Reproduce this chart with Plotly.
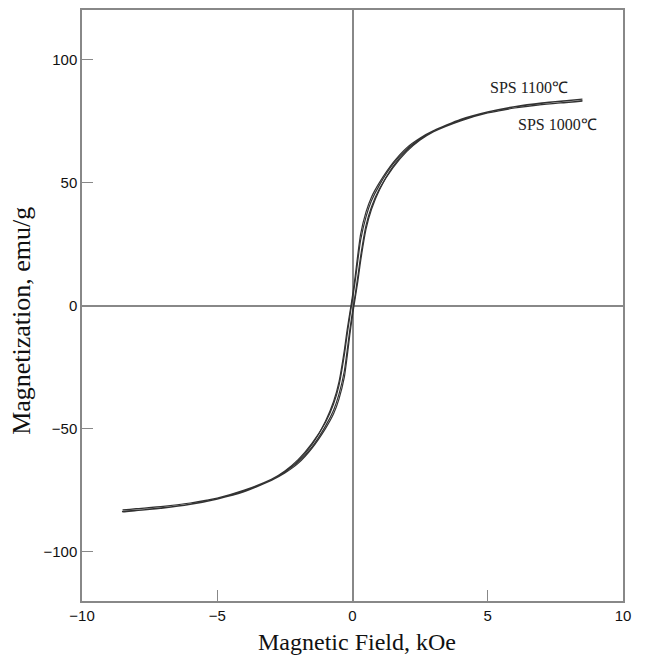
import plotly.graph_objects as go

# Magnetic field grid (kOe), ascending
field_koe = [-8.5, -8, -7, -6, -5, -4, -3, -2.5, -2, -1.5, -1, -0.7, -0.5, -0.3, -0.2, -0.1,
             0, 0.1, 0.2, 0.3, 0.5, 0.7, 1, 1.5, 2, 2.5, 3, 4, 5, 6, 7, 8, 8.5]

# SPS 1100 °C : descending branch (field decreasing), values at field_koe
m1100_desc = [-83.8, -83.3, -82.3, -80.8, -78.6, -75.6, -71.0, -67.5, -63.0, -56.5, -47.0, -39.0,
              -31.0, -18.0, -10.0, -3.0, 4.0, 12.0, 21.0, 29.0, 38.0, 44.0, 50.0, 58.0, 64.0,
              68.0, 71.0, 75.3, 78.5, 80.6, 82.1, 83.2, 83.6]
# SPS 1100 °C : ascending branch (field increasing), values at field_koe
m1100_asc = [-83.6, -83.2, -82.1, -80.6, -78.5, -75.3, -71.0, -68.0, -64.0, -58.0, -50.0, -44.0,
             -38.0, -29.0, -21.0, -12.0, -4.0, 3.0, 10.0, 18.0, 31.0, 39.0, 47.0, 56.5, 63.0,
             67.5, 71.0, 75.6, 78.6, 80.8, 82.3, 83.3, 83.8]

# SPS 1000 °C : descending branch
m1000_desc = [-83.0, -82.6, -81.6, -80.2, -78.2, -75.2, -70.6, -67.2, -62.5, -56.0, -47.5, -40.0,
              -32.5, -20.0, -12.0, -4.5, 2.5, 10.0, 18.5, 26.5, 36.0, 42.5, 49.0, 57.5, 63.5,
              67.5, 70.6, 75.0, 78.2, 80.2, 81.6, 82.5, 83.0]
# SPS 1000 °C : ascending branch
m1000_asc = [-83.0, -82.5, -81.6, -80.2, -78.2, -75.0, -70.6, -67.5, -63.5, -57.5, -49.0, -42.5,
             -36.0, -26.5, -18.5, -10.0, -2.5, 4.5, 12.0, 20.0, 32.5, 40.0, 47.5, 56.0, 62.5,
             67.2, 70.6, 75.2, 78.2, 80.2, 81.6, 82.6, 83.0]

label_1100 = "SPS 1100℃"
label_1000 = "SPS 1000℃"
x_title = "Magnetic Field, kOe"
y_title = "Magnetization, emu/g"
x_ticks = [-10, -5, 0, 5, 10]
y_ticks = [-100, -50, 0, 50, 100]

line_color = "#333333"

fig = go.Figure()
for name, desc, asc in [(label_1100, m1100_desc, m1100_asc), (label_1000, m1000_desc, m1000_asc)]:
    xs = field_koe[::-1] + field_koe
    ys = desc[::-1] + asc
    fig.add_trace(go.Scatter(x=xs, y=ys, mode="lines", name=name, line_shape="spline",
                             line=dict(color=line_color, width=1.2, smoothing=0.6),
                             showlegend=False))

fig.add_annotation(x=8.05, y=88.5, text=label_1100, showarrow=False, xanchor="right",
                   font=dict(family="Liberation Serif", size=16, color="#222"))
fig.add_annotation(x=9.1, y=73.5, text=label_1000, showarrow=False, xanchor="right",
                   font=dict(family="Liberation Serif", size=16, color="#222"))

# axis titles placed as annotations for exact positioning
fig.add_annotation(xref="paper", yref="paper", x=0.508, y=0, yshift=-41, text=x_title,
                   showarrow=False, xanchor="center", yanchor="middle",
                   font=dict(family="Liberation Serif", size=24, color="#111"))
fig.add_annotation(xref="paper", yref="paper", x=0, xshift=-60, y=0.474, text=y_title,
                   textangle=-90, showarrow=False, xanchor="center", yanchor="middle",
                   font=dict(family="Liberation Serif", size=26, color="#111"))

axis_common = dict(
    showgrid=False, showline=True, linecolor="#888888", linewidth=1.5, mirror=True,
    ticks="inside", ticklen=11, tickwidth=1.2, tickcolor="#888888",
    zeroline=True, zerolinecolor="#888888", zerolinewidth=1.5,
    tickfont=dict(family="Liberation Sans", size=15, color="#111"),
)

fig.update_xaxes(range=[-10, 10], tickvals=x_ticks, **axis_common)
fig.update_yaxes(range=[-120, 120], tickvals=y_ticks, **axis_common)

# page body has an 8px margin, so the figure is sized/offset to land the plot area
fig.update_layout(width=637, height=649, margin=dict(l=74, r=22, t=0, b=56),
                  plot_bgcolor="white", paper_bgcolor="white")

fig.write_html("out.html")
